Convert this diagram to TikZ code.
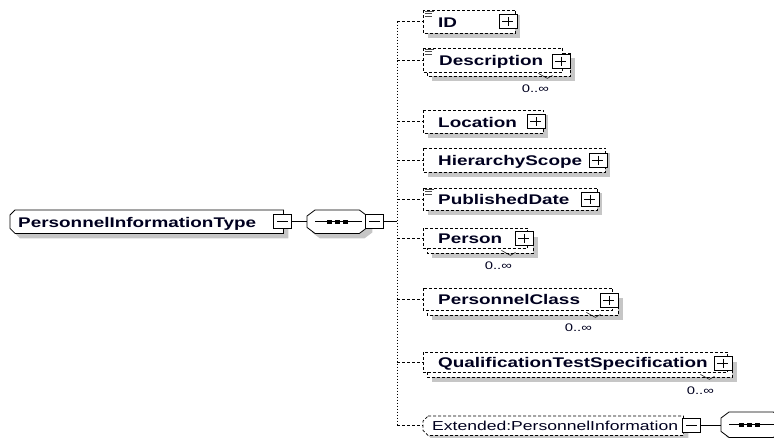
\documentclass[tikz,border=0pt]{standalone}
\usepackage{fontspec}
\newfontfamily\xsf[FakeStretch=1.35]{Liberation Sans}
\usetikzlibrary{calc}
\newcommand\annicon[1]{\draw[line width=0.6pt, black!70] ($(#1.north west)+(2,1)$) -- +(9,0) ($(#1.north west)+(2,3.5)$) -- +(7,0) ($(#1.north west)+(2,6)$) -- +(7,0);}
\newcommand\mtick[1]{\draw[line width=0.5pt] ($(#1.south east)+(-32,-3)$) -- ($(#1.south east)+(-23,2)$) -- ($(#1.south east)+(-18,-1)$);}
% octagon path: name, chamfer x, chamfer y, offset x, offset y
\newcommand\octpath[5]{($(#1.north west)+(#2+#4,#5)$) -- ($(#1.north east)+(-#2+#4,#5)$) -- ($(#1.north east)+(#4,#3+#5)$) -- ($(#1.south east)+(#4,-#3+#5)$) -- ($(#1.south east)+(-#2+#4,#5)$) -- ($(#1.south west)+(#2+#4,#5)$) -- ($(#1.south west)+(#4,-#3+#5)$) -- ($(#1.north west)+(#4,#3+#5)$) -- cycle}
\newcommand\westpath[5]{($(#1.north west)+(#2+#4,#5)$) -- ($(#1.north east)+(#4,#5)$) -- ($(#1.south east)+(#4,#5)$) -- ($(#1.south west)+(#2+#4,#5)$) -- ($(#1.south west)+(#4,-#3+#5)$) -- ($(#1.north west)+(#4,#3+#5)$) -- cycle}
\newcommand\shrect[1]{\fill[gray!45] ([xshift=5pt,yshift=-5pt]#1.north west) rectangle ([xshift=5pt,yshift=-5pt]#1.south east);}
\newcommand\boxrect[1]{\draw[boxline] (#1.north west) rectangle (#1.south east);}
\begin{document}
\begin{tikzpicture}[x=1pt,y=-1pt,
  boxline/.style={draw, dash pattern=on 3pt off 2pt, line width=0.7pt, fill=white},
  frame/.style={draw=none, rectangle, inner sep=0pt, anchor=north west},
  pm/.style={draw, line width=0.9pt, fill=white, rectangle, minimum width=18pt, minimum height=14pt, inner sep=0pt},
  plus/.style={pm, path picture={\draw[line width=0.8pt] ([xshift=3.5pt]path picture bounding box.west) -- ([xshift=-3.5pt]path picture bounding box.east) ([yshift=-2.5pt]path picture bounding box.north) -- ([yshift=2.5pt]path picture bounding box.south);}},
  minus/.style={pm, path picture={\draw[line width=0.8pt] ([xshift=3.5pt]path picture bounding box.west) -- ([xshift=-3.5pt]path picture bounding box.east);}},
  txt/.style={anchor=base west, inner sep=0pt, text=black!88!blue, font=\xsf\bfseries\fontsize{14}{16}\selectfont},
  exttxt/.style={anchor=base west, inner sep=0pt, text=black!88!blue, font=\xsf\fontsize{13}{15}\selectfont},
  mult/.style={inner sep=0pt, text=black!88!blue, font=\xsf\fontsize{11}{13}\selectfont},
  conn/.style={draw, dash pattern=on 3pt off 2pt, line width=0.7pt},
  spine/.style={draw, dash pattern=on 1.5pt off 1.5pt, line width=0.9pt},
  solid line/.style={draw, line width=0.8pt},
  dotsq/.style={fill=black, draw=none, rectangle, minimum width=5pt, minimum height=4pt, inner sep=0pt}]
\useasboundingbox (0,0) rectangle (774,437);

% ---------- root element ----------
\node[frame, minimum width=273pt, minimum height=23pt] (root) at (10,210) {};
\fill[gray!45] \westpath{root}{5}{5}{5}{5};
\draw[line width=0.8pt, fill=white] \westpath{root}{5}{5}{0}{0};
\node[txt] (roott) at ([xshift=8pt,yshift=-6pt]root.west) {PersonnelInformationType};
\node[minus, anchor=west] (rootm) at ([xshift=-10pt]root.east) {};

% ---------- sequence compositor ----------
\node[frame, minimum width=60pt, minimum height=23pt] (seq) at (307,210) {};
\fill[gray!45] \octpath{seq}{8}{6}{5}{5};
\draw[line width=0.8pt, fill=white] \octpath{seq}{8}{6}{0}{0};
\draw[solid line] ($(seq.west)+(8,0)$) -- ($(seq.east)+(-5,0)$);
\node[dotsq] (sd1) at ($(seq.center)+(-8,0)$) {};
\node[dotsq] (sd2) at (seq.center) {};
\node[dotsq] (sd3) at ($(seq.center)+(8,0)$) {};
\node[minus, anchor=west] (seqm) at ([xshift=-2pt]seq.east) {};
\draw[solid line] (rootm.east) -- (rootm.east -| seq.west);

% ---------- children boxes ----------
% ID
\node[frame, minimum width=92pt, minimum height=23pt] (ID) at (423,10) {};
\shrect{ID}\boxrect{ID}
\annicon{ID}
\node[txt] (IDt) at ([xshift=15pt,yshift=-5.5pt]ID.west) {ID};
\node[plus, anchor=east] (IDp) at ([xshift=2pt]ID.east) {};

% Description
\node[frame, minimum width=143pt, minimum height=23pt] (Db) at (427,53) {};
\node[frame, minimum width=139pt, minimum height=24pt] (D) at (423,48) {};
\shrect{Db}\boxrect{Db}\boxrect{D}
\annicon{D}
\node[txt] (Dt) at ([xshift=16pt,yshift=-5.5pt]D.west) {Description};
\node[plus, anchor=east] (Dp) at ([yshift=3.5pt]Db.east) {};
\mtick{Db}
\node[mult] (Dm) at ([xshift=-35pt,yshift=-12pt]Db.south east) {0..∞};

% Location
\node[frame, minimum width=120pt, minimum height=23pt] (L) at (423,110) {};
\shrect{L}\boxrect{L}
\node[txt] (Lt) at ([xshift=15pt,yshift=-5.5pt]L.west) {Location};
\node[plus, anchor=east] (Lp) at ([xshift=2pt]L.east) {};

% HierarchyScope
\node[frame, minimum width=182pt, minimum height=24pt] (H) at (423,148) {};
\shrect{H}\boxrect{H}
\node[txt] (Ht) at ([xshift=15pt,yshift=-5.5pt]H.west) {HierarchyScope};
\node[plus, anchor=east] (Hp) at ([xshift=2pt]H.east) {};

% PublishedDate
\node[frame, minimum width=174pt, minimum height=22pt] (P) at (423,188) {};
\shrect{P}\boxrect{P}
\annicon{P}
\node[txt] (Pt) at ([xshift=15pt,yshift=-5.5pt]P.west) {PublishedDate};
\node[plus, anchor=east] (Pp) at ([xshift=2pt]P.east) {};

% Person
\node[frame, minimum width=106pt, minimum height=21pt] (Pb) at (427,232) {};
\node[frame, minimum width=104pt, minimum height=20pt] (Pe) at (423,228) {};
\shrect{Pb}\boxrect{Pb}\boxrect{Pe}
\node[txt] (Pet) at ([xshift=15pt,yshift=-5.5pt]Pe.west) {Person};
\node[plus, anchor=east] (Pep) at ([yshift=4pt]Pb.east) {};
\mtick{Pb}
\node[mult] (Pem) at ([xshift=-35pt,yshift=-12pt]Pb.south east) {0..∞};

% PersonnelClass
\node[frame, minimum width=191pt, minimum height=22pt] (Cb) at (427,293) {};
\node[frame, minimum width=189pt, minimum height=22pt] (C) at (423,288) {};
\shrect{Cb}\boxrect{Cb}\boxrect{C}
\node[txt] (Ct) at ([xshift=15pt,yshift=-5.5pt]C.west) {PersonnelClass};
\node[plus, anchor=east] (Cp) at ([yshift=3.5pt]Cb.east) {};
\mtick{Cb}
\node[mult] (Cm) at ([xshift=-40pt,yshift=-12pt]Cb.south east) {0..∞};

% QualificationTestSpecification
\node[frame, minimum width=305pt, minimum height=20pt] (Qb) at (427,357) {};
\node[frame, minimum width=304pt, minimum height=20pt] (Q) at (423,352) {};
\shrect{Qb}\boxrect{Qb}\boxrect{Q}
\node[txt] (Qt) at ([xshift=15pt,yshift=-5.5pt]Q.west) {QualificationTestSpecification};
\node[plus, anchor=east] (Qp) at ([yshift=4pt]Qb.east) {};
\mtick{Qb}
\node[mult] (Qm) at ([xshift=-32pt,yshift=-13pt]Qb.south east) {0..∞};

% Extended:PersonnelInformation
\node[frame, minimum width=260pt, minimum height=19pt] (E) at (423,416) {};
\fill[gray!45] \westpath{E}{5}{5}{5}{5};
\draw[dash pattern=on 3pt off 2pt, line width=0.7pt, fill=white] \westpath{E}{5}{5}{0}{0};
\node[exttxt] (Et) at ([xshift=9pt,yshift=-5pt]E.west) {Extended:PersonnelInformation};
\node[minus, anchor=west] (Em) at ([xshift=-1pt]E.east) {};
\node[frame, minimum width=60pt, minimum height=25pt] (seq2) at (721,412) {};
\fill[gray!45] \octpath{seq2}{8}{6}{5}{5};
\draw[line width=0.8pt, fill=white] \octpath{seq2}{8}{6}{0}{0};
\draw[solid line] ($(seq2.west)+(8,0)$) -- ($(seq2.east)+(-5,0)$);
\node[dotsq] (s2d1) at ($(seq2.center)+(-10,0)$) {};
\node[dotsq] (s2d2) at ($(seq2.center)+(-2,0)$) {};
\node[dotsq] (s2d3) at ($(seq2.center)+(6,0)$) {};
\draw[solid line] (Em.east) -- (Em.east -| seq2.west);

% ---------- spine and connectors ----------
\coordinate (spX) at (397,0);
\draw[spine] (ID.west -| spX) -- (E.west -| spX);
\draw[solid line] (seqm.east) -- (seqm.east -| spX);
\draw[conn] (ID.west -| spX) -- (ID.west);
\draw[conn] (D.west -| spX) -- (D.west);
\draw[conn] (L.west -| spX) -- (L.west);
\draw[conn] (H.west -| spX) -- (H.west);
\draw[conn] (P.west -| spX) -- (P.west);
\draw[conn] (Pe.west -| spX) -- (Pe.west);
\draw[conn] (C.west -| spX) -- (C.west);
\draw[conn] (Q.west -| spX) -- (Q.west);
\draw[conn] (E.west -| spX) -- (E.west);
\end{tikzpicture}
\end{document}
